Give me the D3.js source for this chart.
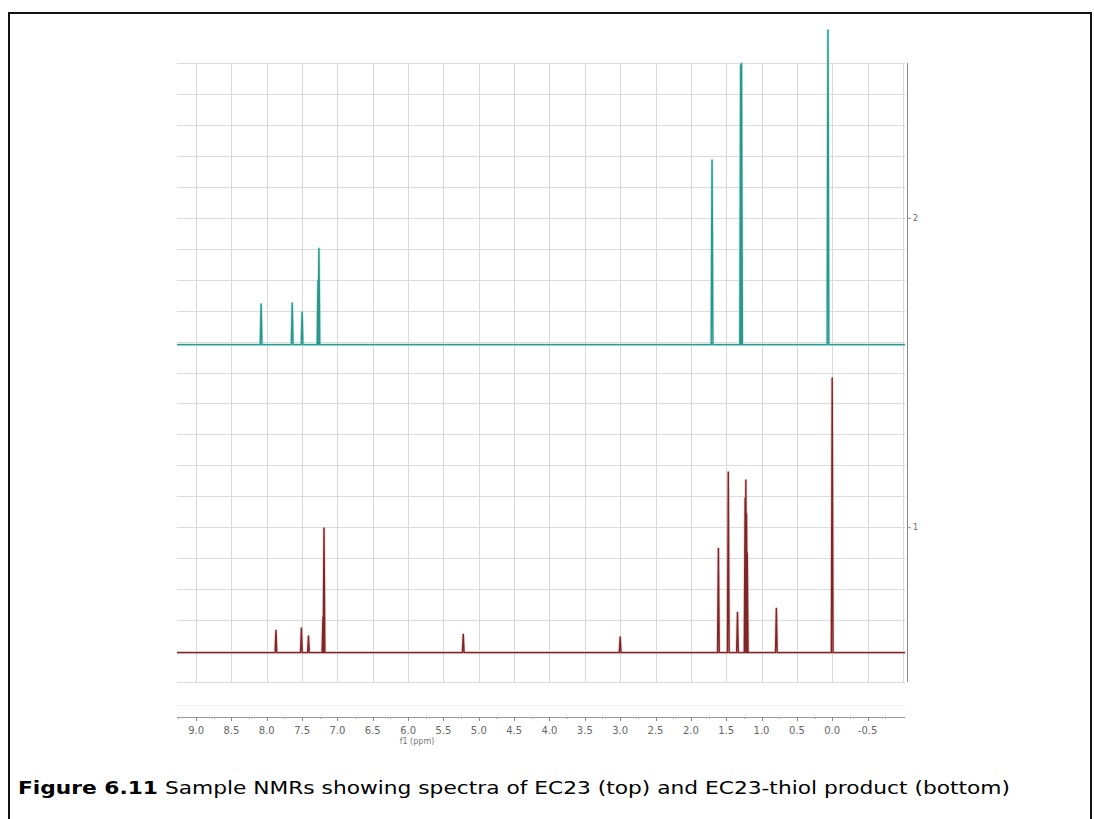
<!DOCTYPE html>
<html>
<head>
<meta charset="utf-8">
<script src="https://cdn.jsdelivr.net/npm/d3@7"></script>
<style>
  body { margin: 0; background: #fff; }
  svg { display: block; }
</style>
</head>
<body>
<svg width="1094" height="819"></svg>
<script>
var svg = d3.select("svg");

// x axis ticks (ppm)
var ppmTicks = [9.0, 8.5, 8.0, 7.5, 7.0, 6.5, 6.0, 5.5, 5.0, 4.5, 4.0, 3.5, 3.0, 2.5, 2.0, 1.5, 1.0, 0.5, 0.0, -0.5];
// right axis ticks
var intensityTicks = [1, 2];

// top spectrum: EC23
var topShift = [8.08, 7.64, 7.50, 7.275, 7.262, 1.70, 1.295, 1.283, 0.06];
var topHeight = [0.133, 0.136, 0.107, 0.21, 0.313, 0.598, 0.905, 0.911, 1.018];
var topOffset = 1.59;

// bottom spectrum: EC23-thiol product
var botShift = [7.87, 7.51, 7.41, 7.205, 7.19, 5.22, 3.00, 1.61, 1.47, 1.34, 1.232, 1.222, 1.212, 1.202, 0.79, 0.00];
var botHeight = [0.074, 0.081, 0.055, 0.116, 0.404, 0.061, 0.052, 0.339, 0.585, 0.132, 0.50, 0.559, 0.45, 0.323, 0.145, 0.889];
var botOffset = 0.595;

// scales
var x = d3.scaleLinear().domain([9.27, -1.03]).range([177, 905]);
var y = d3.scaleLinear().domain([0.5, 2.5]).range([682, 63]);

// outer frame
svg.append("path")
    .attr("d", "M9,830 V13 H1091 V830")
    .attr("fill", "none")
    .attr("stroke", "#111")
    .attr("stroke-width", 2);

//////////// GRID ////////////
var grid = svg.append("g").attr("class", "grid");

grid.selectAll("line.h")
    .data(d3.range(0, 21).map(function (i) { return 0.5 + i * 0.1; }))
    .enter().append("line")
    .attr("class", "h")
    .attr("x1", x(9.27)).attr("x2", x(-1.03))
    .attr("y1", function (d) { return Math.round(y(d)) + 0.5; })
    .attr("y2", function (d) { return Math.round(y(d)) + 0.5; })
    .attr("stroke", "#dcdcdc");

grid.selectAll("line.v")
    .data(ppmTicks.concat([-1.0]))
    .enter().append("line")
    .attr("class", "v")
    .attr("x1", function (d) { return Math.round(x(d)) + 0.5; })
    .attr("x2", function (d) { return Math.round(x(d)) + 0.5; })
    .attr("y1", y(2.5)).attr("y2", y(0.5))
    .attr("stroke", "#d8d8d8");

// right intensity axis
var right = svg.append("g").attr("transform", "translate(907,0)");
right.append("line")
    .attr("x1", 0.5).attr("x2", 0.5)
    .attr("y1", y(2.5)).attr("y2", y(0.5))
    .attr("stroke", "#8a8a8a");
right.selectAll("line.t")
    .data(intensityTicks)
    .enter().append("line")
    .attr("class", "t")
    .attr("x1", 0).attr("x2", 4)
    .attr("y1", function (d) { return y(d) + 0.5; })
    .attr("y2", function (d) { return y(d) + 0.5; })
    .attr("stroke", "#8a8a8a");
right.selectAll("text")
    .data(intensityTicks)
    .enter().append("text")
    .attr("x", 6)
    .attr("y", function (d) { return y(d) + 3; })
    .attr("font-family", "DejaVu Sans, sans-serif")
    .attr("font-size", 8)
    .attr("fill", "#666")
    .text(function (d) { return d; });

//////////// SPECTRA ////////////
var line = d3.line()
    .x(function (d) { return x(d[0]); })
    .y(function (d) { return y(d[1]); });

function spectrumPoints(shifts, heights, offset) {
    var pts = [[9.27, offset]];
    shifts.forEach(function (s, i) {
        pts.push([s + 0.012, offset]);
        pts.push([s, offset + heights[i]]);
        pts.push([s - 0.012, offset]);
    });
    pts.push([-1.03, offset]);
    return pts;
}

// light halo then main stroke (top)
svg.append("path")
    .attr("d", line(spectrumPoints(topShift, topHeight, topOffset)))
    .attr("fill", "none")
    .attr("stroke", "#9fe3dc")
    .attr("stroke-width", 3)
    .attr("opacity", 0.6);
svg.append("path")
    .attr("d", line(spectrumPoints(topShift, topHeight, topOffset)))
    .attr("fill", "none")
    .attr("stroke", "#2c968c")
    .attr("stroke-width", 1.4);

svg.append("path")
    .attr("d", line(spectrumPoints(botShift, botHeight, botOffset)))
    .attr("fill", "none")
    .attr("stroke", "#e8a9b0")
    .attr("stroke-width", 3)
    .attr("opacity", 0.5);
svg.append("path")
    .attr("d", line(spectrumPoints(botShift, botHeight, botOffset)))
    .attr("fill", "none")
    .attr("stroke", "#7e2626")
    .attr("stroke-width", 1.4);

//////////// X AXIS ////////////
var axisY = 717;
var ax = svg.append("g");
ax.append("line")
    .attr("x1", 177).attr("x2", 905)
    .attr("y1", 705.5).attr("y2", 705.5)
    .attr("stroke", "#f0f0f0");
ax.append("line")
    .attr("x1", 177).attr("x2", 905)
    .attr("y1", axisY + 0.5).attr("y2", axisY + 0.5)
    .attr("stroke", "#9a9a9a");
ax.selectAll("line.minor")
    .data(ppmTicks.map(function (d) { return d - 0.25; }).concat([9.25]))
    .enter().append("line")
    .attr("class", "minor")
    .attr("x1", function (d) { return Math.round(x(d)) + 0.5; })
    .attr("x2", function (d) { return Math.round(x(d)) + 0.5; })
    .attr("y1", axisY).attr("y2", axisY + 2)
    .attr("stroke", "#aaa");
ax.selectAll("line.major")
    .data(ppmTicks)
    .enter().append("line")
    .attr("class", "major")
    .attr("x1", function (d) { return Math.round(x(d)) + 0.5; })
    .attr("x2", function (d) { return Math.round(x(d)) + 0.5; })
    .attr("y1", axisY).attr("y2", axisY + 4)
    .attr("stroke", "#888");
ax.selectAll("text")
    .data(ppmTicks)
    .enter().append("text")
    .attr("x", function (d) { return x(d); })
    .attr("y", axisY + 17)
    .attr("text-anchor", "middle")
    .attr("font-family", "DejaVu Sans, sans-serif")
    .attr("font-size", 10)
    .attr("fill", "#666")
    .text(function (d) { return d3.format(".1f")(d).replace("−", "-"); });
ax.append("text")
    .attr("x", 417)
    .attr("y", axisY + 27)
    .attr("text-anchor", "middle")
    .attr("font-family", "DejaVu Sans, sans-serif")
    .attr("font-size", 8)
    .attr("fill", "#777")
    .text("f1 (ppm)");

//////////// CAPTION ////////////
var cap = svg.append("text")
    .attr("x", 18)
    .attr("y", 794)
    .attr("font-family", "DejaVu Sans, Verdana, sans-serif")
    .attr("font-size", 18)
    .attr("textLength", 992)
    .attr("lengthAdjust", "spacingAndGlyphs")
    .attr("fill", "#000");
cap.append("tspan").attr("font-weight", "bold").text("Figure 6.11");
cap.append("tspan").text(" Sample NMRs showing spectra of EC23 (top) and EC23-thiol product (bottom)");
</script>
</body>
</html>
